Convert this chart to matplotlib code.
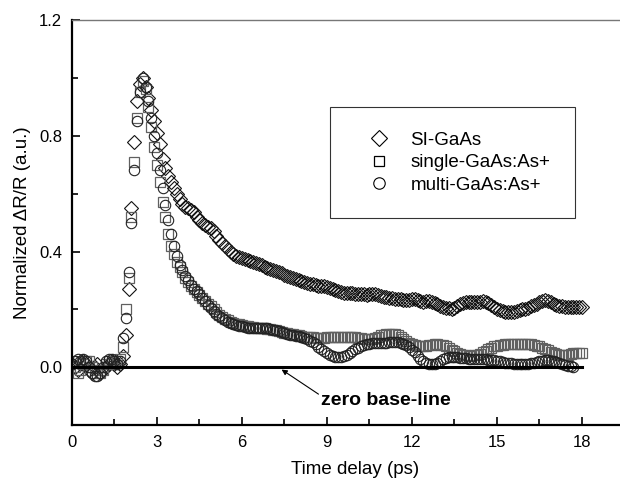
import numpy as np
import matplotlib
matplotlib.use('Agg')
import matplotlib.pyplot as plt
from matplotlib.ticker import MultipleLocator, FormatStrFormatter

plt.rcParams['font.family'] = ['Liberation Sans', 'DejaVu Sans']

# pas de temps des mesures (ps)
dt = 0.1

# SI-GaAs (losanges)
si_gaas = [0.01, 0.0, -0.01, 0.01, 0.02, 0.01, -0.01, -0.02, 0.0, 0.01,
           -0.02, -0.01, 0.0, 0.01, 0.02, 0.01, 0.0, 0.01,
           0.04, 0.11, 0.27, 0.55, 0.78, 0.92, 0.98, 1.0, 0.97, 0.93,
           0.89, 0.85, 0.81, 0.77, 0.72, 0.69, 0.66, 0.64, 0.62, 0.60,
           0.58, 0.565, 0.555, 0.55, 0.545, 0.535, 0.52, 0.51, 0.50, 0.49,
           0.485, 0.48, 0.47, 0.455, 0.44, 0.43, 0.42, 0.41, 0.40, 0.39,
           0.385, 0.38, 0.378, 0.375, 0.372, 0.368, 0.364, 0.36, 0.356, 0.352,
           0.348, 0.344, 0.34, 0.336, 0.332, 0.328, 0.324, 0.32, 0.316, 0.312,
           0.308, 0.305, 0.302, 0.298, 0.295, 0.292, 0.289, 0.286, 0.283, 0.281,
           0.28, 0.281, 0.279, 0.275, 0.27, 0.266, 0.263, 0.261, 0.258, 0.256,
           0.256, 0.255, 0.254, 0.254, 0.253, 0.252, 0.251, 0.252, 0.254, 0.252,
           0.249, 0.246, 0.244, 0.242, 0.240, 0.238, 0.237, 0.236, 0.235, 0.234,
           0.233, 0.234, 0.236, 0.235, 0.232, 0.229, 0.227, 0.228, 0.229, 0.226,
           0.222, 0.217, 0.212, 0.208, 0.206, 0.204, 0.203, 0.206, 0.212, 0.218,
           0.222, 0.224, 0.226, 0.227, 0.226, 0.225, 0.226, 0.228, 0.227, 0.222,
           0.216, 0.209, 0.202, 0.197, 0.193, 0.191, 0.19, 0.19, 0.192, 0.196,
           0.199, 0.201, 0.203, 0.206, 0.21, 0.215, 0.22, 0.225, 0.229, 0.231,
           0.229, 0.225, 0.22, 0.216, 0.213, 0.211, 0.209, 0.208, 0.207, 0.207,
           0.207, 0.207, 0.208]

# single-GaAs:As+ (carrés)
single = [0.02, 0.0, -0.02, -0.01, 0.01, 0.02, 0.02, 0.0, -0.02, -0.01,
          -0.02, -0.01, 0.01, 0.02, 0.02, 0.01, 0.02, 0.03,
          0.07, 0.2, 0.31, 0.52, 0.71, 0.86, 0.95, 0.99, 0.96, 0.90,
          0.83, 0.76, 0.70, 0.64, 0.57, 0.52, 0.46, 0.42, 0.39, 0.365,
          0.345, 0.33, 0.31, 0.295, 0.28, 0.27, 0.26, 0.25, 0.24, 0.23,
          0.22, 0.21, 0.20, 0.19, 0.182, 0.175, 0.168, 0.162, 0.157, 0.153,
          0.15, 0.148, 0.146, 0.144, 0.142, 0.14, 0.138, 0.137, 0.136, 0.135,
          0.134, 0.133, 0.131, 0.129, 0.127, 0.125, 0.122, 0.12, 0.118, 0.116,
          0.114, 0.112, 0.11, 0.108, 0.106, 0.105, 0.104, 0.103, 0.102, 0.102,
          0.102, 0.102, 0.103, 0.104, 0.104, 0.105, 0.105, 0.105, 0.104, 0.104,
          0.104, 0.104, 0.103, 0.102, 0.1, 0.098, 0.097, 0.097, 0.099, 0.102,
          0.106, 0.11, 0.113, 0.115, 0.116, 0.116, 0.114, 0.11, 0.104, 0.097,
          0.09, 0.084, 0.08, 0.077, 0.075, 0.074, 0.074, 0.075, 0.076, 0.078,
          0.079, 0.079, 0.078, 0.076, 0.072, 0.067, 0.061, 0.055, 0.05, 0.046,
          0.043, 0.041, 0.04, 0.04, 0.041, 0.043, 0.046, 0.051, 0.057, 0.063,
          0.068, 0.072, 0.075, 0.077, 0.078, 0.079, 0.08, 0.081, 0.082, 0.082,
          0.082, 0.082, 0.082, 0.081, 0.08, 0.078, 0.075, 0.072, 0.068, 0.063,
          0.058, 0.053, 0.049, 0.046, 0.044, 0.043, 0.043, 0.044, 0.046, 0.048,
          0.049, 0.05, 0.05]

# multi-GaAs:As+ (cercles)
multi = [0.01, 0.02, 0.03, 0.02, 0.03, 0.02, 0.0, -0.02, -0.03, -0.03,
         -0.02, 0.0, 0.02, 0.03, 0.03, 0.02, 0.01, 0.02,
         0.1, 0.17, 0.33, 0.5, 0.68, 0.85, 0.95, 1.0, 0.97, 0.92,
         0.86, 0.80, 0.74, 0.68, 0.62, 0.56, 0.51, 0.46, 0.42, 0.385,
         0.355, 0.335, 0.315, 0.30, 0.285, 0.272, 0.262, 0.252, 0.24, 0.228,
         0.216, 0.205, 0.195, 0.185, 0.177, 0.17, 0.164, 0.158, 0.153, 0.149,
         0.146, 0.143, 0.141, 0.139, 0.137, 0.135, 0.134, 0.134, 0.134, 0.135,
         0.135, 0.134, 0.132, 0.13, 0.127, 0.124, 0.121, 0.118, 0.115, 0.113,
         0.111, 0.109, 0.107, 0.104, 0.101, 0.097, 0.092, 0.086, 0.079, 0.071,
         0.063, 0.056, 0.049, 0.043, 0.038, 0.035, 0.034, 0.035, 0.038, 0.043,
         0.049, 0.056, 0.062, 0.068, 0.073, 0.077, 0.08, 0.082, 0.083, 0.083,
         0.083, 0.083, 0.084, 0.085, 0.087, 0.088, 0.088, 0.087, 0.085, 0.082,
         0.077, 0.07, 0.061, 0.051, 0.04, 0.03, 0.021, 0.015, 0.011, 0.01,
         0.012, 0.016, 0.022, 0.027, 0.031, 0.034, 0.035, 0.035, 0.034, 0.033,
         0.032, 0.031, 0.03, 0.029, 0.029, 0.028, 0.028, 0.027, 0.027, 0.026,
         0.025, 0.024, 0.022, 0.02, 0.018, 0.016, 0.014, 0.013, 0.012, 0.011,
         0.011, 0.011, 0.011, 0.012, 0.013, 0.015, 0.017, 0.02, 0.022, 0.024,
         0.024, 0.022, 0.02, 0.017, 0.013, 0.01, 0.008, 0.006, 0.003, 0.0]

t_si = np.arange(len(si_gaas)) * dt
t_single = np.arange(len(single)) * dt
t_multi = np.arange(len(multi)) * dt

fig = plt.figure(figsize=(6.2, 4.82), dpi=100)
# l'axe dépasse à droite comme sur l'original (image rognée)
ax = fig.add_axes([0.116, 0.118, 0.914, 0.8405])

ax.plot(t_si, si_gaas, linestyle='none', marker='D', markersize=7,
        markerfacecolor='none', markeredgecolor='#111111', markeredgewidth=0.8,
        label='SI-GaAs')
ax.plot(t_single, single, linestyle='none', marker='s', markersize=6.5,
        markerfacecolor='none', markeredgecolor='#606060', markeredgewidth=0.9,
        label='single-GaAs:As+')
ax.plot(t_multi, multi, linestyle='none', marker='o', markersize=7.5,
        markerfacecolor='none', markeredgecolor='#222222', markeredgewidth=0.8,
        label='multi-GaAs:As+')

# ligne de base zéro
ax.plot([0, 18], [0, 0], color='black', linewidth=2.2)

ax.annotate('zero base-line', xy=(7.4, -0.008), xytext=(8.8, -0.114),
            fontsize=14, fontweight='bold', va='center', ha='left',
            arrowprops=dict(arrowstyle='-|>', color='black', lw=0.8,
                            mutation_scale=8, relpos=(0, 0.75), shrinkA=0, shrinkB=0))

ax.set_xlim(0, 20)
ax.set_ylim(-0.2, 1.2)
ax.set_xticks([0, 3, 6, 9, 12, 15, 18])
ax.xaxis.set_minor_locator(MultipleLocator(1.5))
ax.yaxis.set_major_locator(MultipleLocator(0.4))
ax.yaxis.set_minor_locator(MultipleLocator(0.2))
ax.yaxis.set_major_formatter(FormatStrFormatter('%.1f'))
ax.tick_params(which='both', direction='in', labelsize=12, width=1.2,
               top=False, right=False)
ax.tick_params(which='major', length=6, pad=7)
ax.tick_params(which='minor', length=4)

ax.spines['left'].set_linewidth(1.6)
ax.spines['bottom'].set_linewidth(1.6)
ax.spines['top'].set_linewidth(1.0)
ax.spines['top'].set_color('#777777')

ax.set_xlabel('Time delay (ps)', fontsize=13.5, labelpad=8)
ax.set_ylabel('Normalized \u0394R/R (a.u.)', fontsize=13.5, labelpad=6)

leg = ax.legend(loc='upper left', bbox_to_anchor=(0.532, 0.778),
                bbox_transform=fig.transFigure, fontsize=13.5, frameon=True,
                fancybox=False, edgecolor='black', borderpad=1.3,
                borderaxespad=0, handlelength=2.6, handletextpad=0.4,
                labelspacing=0.3, markerscale=1.1)
leg.get_frame().set_linewidth(0.8)
for h in leg.legend_handles:
    h.set_markeredgecolor('black')

fig.savefig('out.png', dpi=100)
